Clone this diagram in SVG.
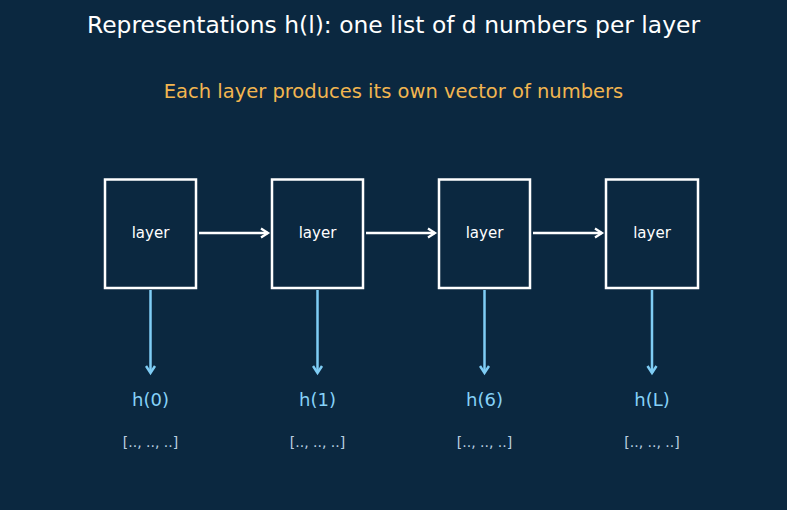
<svg xmlns="http://www.w3.org/2000/svg" width="787" height="510" viewBox="0 0 787 510">
<style>
text{font-family:"DejaVu Sans","Liberation Sans",sans-serif;text-anchor:middle}
.title{font-size:23.4px;fill:#ffffff}
.sub{font-size:19.5px;fill:#f2b650}
.box{fill:#0b2840;stroke:#ffffff;stroke-width:2.5}
.lbl{font-size:15px;fill:#ffffff}
.h{font-size:18px;fill:#86d2f8}
.vec{font-size:14px;fill:#b9cfe0}
.fw{stroke:#ffffff;stroke-width:2.3;fill:none}
.dn{stroke:#7fcdf5;stroke-width:2.5;fill:none}
</style>
<defs>
<marker id="aw" markerWidth="12" markerHeight="12" refX="9" refY="6" orient="auto" markerUnits="userSpaceOnUse">
<path d="M2,1.5 L9,6 L2,10.5" fill="none" stroke="#ffffff" stroke-width="2.3"/>
</marker>
<marker id="ab" markerWidth="12" markerHeight="12" refX="9" refY="6" orient="auto" markerUnits="userSpaceOnUse">
<path d="M2,1.5 L9,6 L2,10.5" fill="none" stroke="#7fcdf5" stroke-width="2.5"/>
</marker>
</defs>
<rect width="787" height="510" fill="#0b2840"/>
<text class="title" x="393.5" y="33">Representations h(l): one list of d numbers per layer</text>
<text class="sub" x="393.5" y="98">Each layer produces its own vector of numbers</text>
<g id="connectors">
<line class="fw" x1="199" y1="233" x2="268" y2="233" marker-end="url(#aw)"/>
<line class="fw" x1="366" y1="233" x2="435" y2="233" marker-end="url(#aw)"/>
<line class="fw" x1="533" y1="233" x2="602" y2="233" marker-end="url(#aw)"/>
<line class="dn" x1="150.5" y1="290" x2="150.5" y2="373" marker-end="url(#ab)"/>
<line class="dn" x1="317.5" y1="290" x2="317.5" y2="373" marker-end="url(#ab)"/>
<line class="dn" x1="484.5" y1="290" x2="484.5" y2="373" marker-end="url(#ab)"/>
<line class="dn" x1="652" y1="290" x2="652" y2="373" marker-end="url(#ab)"/>
</g>
<g id="layer0"><rect class="box" x="105" y="179.5" width="91" height="108.5"/><text class="lbl" x="150.5" y="238">layer</text></g>
<g id="layer1"><rect class="box" x="272" y="179.5" width="91" height="108.5"/><text class="lbl" x="317.5" y="238">layer</text></g>
<g id="layer2"><rect class="box" x="439" y="179.5" width="91" height="108.5"/><text class="lbl" x="484.5" y="238">layer</text></g>
<g id="layer3"><rect class="box" x="606" y="179.5" width="92" height="108.5"/><text class="lbl" x="652" y="238">layer</text></g>
<g id="h0"><text class="h" x="150.5" y="406">h(0)</text><text class="vec" x="150.5" y="447">[.., .., ..]</text></g>
<g id="h1"><text class="h" x="317.5" y="406">h(1)</text><text class="vec" x="317.5" y="447">[.., .., ..]</text></g>
<g id="h6"><text class="h" x="484.5" y="406">h(6)</text><text class="vec" x="484.5" y="447">[.., .., ..]</text></g>
<g id="hL"><text class="h" x="652" y="406">h(L)</text><text class="vec" x="652" y="447">[.., .., ..]</text></g>
</svg>
